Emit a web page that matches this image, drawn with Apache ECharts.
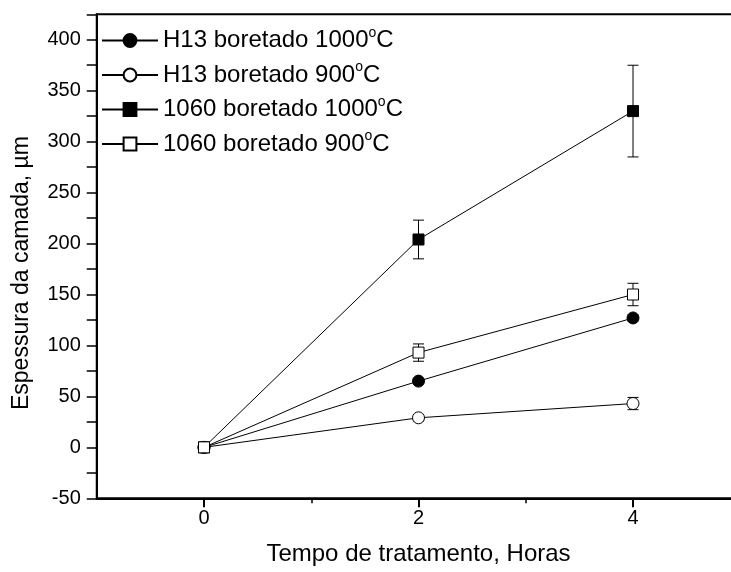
<!DOCTYPE html>
<html>
<head>
<meta charset="utf-8">
<script src="https://cdn.jsdelivr.net/npm/echarts@6/dist/echarts.min.js"></script>
<style>
  html, body { margin: 0; padding: 0; background: #fff; }
  #chart { width: 731px; height: 572px; }
</style>
</head>
<body>
<div id="chart"></div>
<script>
// Boride layer thickness vs. treatment time
const hours = [0, 2, 4];

const seriesNames = [
  'H13 boretado 1000°C',
  'H13 boretado 900°C',
  '1060 boretado 1000°C',
  '1060 boretado 900°C'
];

// thickness in µm
const h13_1000 = [0, 65, 127];
const h13_900 = [0, 29, 43];
const s1060_1000 = [0, 204, 330];
const s1060_900 = [0, 93, 150];

// standard deviation (µm)
const h13_1000_err = [0, 2, 3];
const h13_900_err = [0, 3, 6];
const s1060_1000_err = [0, 19, 45];
const s1060_900_err = [0, 8.5, 11];

const xLabelValues = [0, 2, 4];
const xMinorTickValues = [1, 3];
const yLabelValues = [-50, 0, 50, 100, 150, 200, 250, 300, 350, 400];

const FONT = 'Arial, "Liberation Sans", sans-serif';

const valueSets = [h13_1000, h13_900, s1060_1000, s1060_900];
const errSets = [h13_1000_err, h13_900_err, s1060_1000_err, s1060_900_err];
const symbols = ['circle', 'circle', 'rect', 'rect'];
const filled = [true, false, true, false];
const symbolSizes = [12, 12, 11, 11];

function pairs(vals) {
  return hours.map((h, i) => [h, vals[i]]);
}

const lineSeries = valueSets.map((vals, k) => ({
  name: seriesNames[k],
  type: 'line',
  data: pairs(vals),
  symbol: symbols[k],
  symbolSize: symbolSizes[k],
  showAllSymbol: true,
  z: 3,
  lineStyle: { color: '#000', width: 1 },
  itemStyle: {
    color: filled[k] ? '#000' : '#fff',
    borderColor: '#000',
    borderWidth: 1
  },
  emphasis: { disabled: true },
  animation: false
}));

const errorSeries = valueSets.map((vals, k) => ({
  type: 'custom',
  name: seriesNames[k] + ' erro',
  z: 2,
  silent: true,
  animation: false,
  data: hours.map((h, i) => [h, vals[i] - errSets[k][i], vals[i] + errSets[k][i]]),
  renderItem: function (params, api) {
    const x = api.value(0);
    const lo = api.coord([x, api.value(1)]);
    const hi = api.coord([x, api.value(2)]);
    if (Math.abs(hi[1] - lo[1]) < 1) return null;
    const cap = 5.5;
    const st = { stroke: '#000', lineWidth: 1 };
    return {
      type: 'group',
      children: [
        { type: 'line', shape: { x1: lo[0], y1: lo[1], x2: hi[0], y2: hi[1] }, style: st },
        { type: 'line', shape: { x1: lo[0] - cap, y1: lo[1], x2: lo[0] + cap, y2: lo[1] }, style: st },
        { type: 'line', shape: { x1: hi[0] - cap, y1: hi[1], x2: hi[0] + cap, y2: hi[1] }, style: st }
      ]
    };
  }
}));

const chart = echarts.init(document.getElementById('chart'), null, { renderer: 'canvas' });

chart.setOption({
  backgroundColor: '#fff',
  animation: false,
  textStyle: { fontFamily: FONT, color: '#000' },
  grid: {
    left: 96.75,
    width: 643.5,
    top: 14.3,
    height: 484,
    containLabel: false,
    outerBoundsMode: 'none',
    show: true,
    borderColor: '#000',
    borderWidth: 2,
    backgroundColor: 'transparent'
  },
  legend: {
    orient: 'vertical',
    left: 101,
    top: 26,
    padding: 0,
    itemWidth: 56,
    itemHeight: 16,
    itemGap: 8,
    selectedMode: false,
    data: seriesNames,
    formatter: function (name) {
      return name.replace('°', '{sup|o}');
    },
    textStyle: {
      fontFamily: FONT,
      fontSize: 24,
      color: '#000',
      rich: {
        sup: { fontFamily: FONT, fontSize: 14, color: '#000', padding: [0, 0, 15, 0] }
      }
    }
  },
  xAxis: [
    {
      type: 'value',
      min: -1,
      max: 5,
      interval: 1,
      position: 'bottom',
      name: 'Tempo de tratamento, Horas',
      nameLocation: 'middle',
      nameGap: 44,
      nameTextStyle: { fontFamily: FONT, fontSize: 24, color: '#000' },
      splitLine: { show: false },
      axisLine: { show: true, onZero: false, lineStyle: { color: '#000', width: 2 } },
      axisTick: { show: true, inside: false, length: 9, customValues: xLabelValues, lineStyle: { color: '#000', width: 2 } },
      axisLabel: { customValues: xLabelValues, margin: 10, fontFamily: FONT, fontSize: 20, color: '#000' }
    },
    {
      type: 'value',
      min: -1,
      max: 5,
      interval: 1,
      position: 'bottom',
      splitLine: { show: false },
      axisLine: { show: false, onZero: false },
      axisTick: { show: true, inside: false, length: 5, customValues: xMinorTickValues, lineStyle: { color: '#000', width: 1.5 } },
      axisLabel: { show: false }
    }
  ],
  yAxis: {
    type: 'value',
    min: -50,
    max: 425,
    interval: 25,
    splitLine: { show: false },
    axisLine: { show: true, onZero: false, lineStyle: { color: '#000', width: 2 } },
    axisTick: { show: true, inside: false, length: 10, lineStyle: { color: '#000', width: 1.5 } },
    axisLabel: { customValues: yLabelValues, margin: 16, fontFamily: FONT, fontSize: 20, color: '#000' }
  },
  graphic: [
    {
      type: 'text',
      x: 22,
      y: 273,
      rotation: Math.PI / 2,
      style: {
        text: 'Espessura da camada, µm',
        fontFamily: FONT,
        fontSize: 23,
        fill: '#000',
        textAlign: 'center',
        textVerticalAlign: 'middle'
      }
    }
  ],
  series: errorSeries.concat(lineSeries)
});
</script>
</body>
</html>
